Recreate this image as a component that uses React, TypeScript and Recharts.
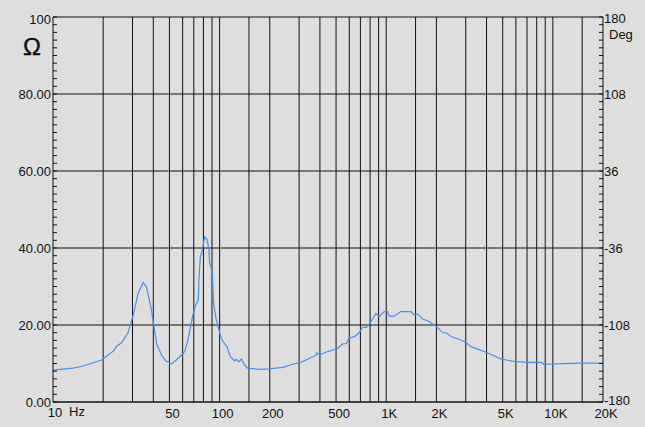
import React from 'react';
import { LineChart, Line, XAxis, YAxis, CartesianGrid } from 'recharts';

// impedance curve (Hz, ohm)
const FREQS = [
  10, 13.2, 15.2, 17.4, 19.6, 21.4, 23, 24.1, 25.8, 28.2, 30.5, 32.4, 34.7, 36.4, 39, 40.8, 42.1,
  44.8, 47.5, 51.4, 55, 59, 61.7, 64.6, 68.7, 71.8, 74.5, 75.2, 76.6, 78.7, 81.3, 84, 86.3, 87.1,
  90.4, 92, 95.5, 101, 104.7, 110.6, 115.9, 123, 126, 130.5, 135.5, 139.3, 145.7, 151, 174, 199,
  239, 275, 308, 346, 379, 383, 397, 445, 511, 547, 578, 595, 652, 696, 721, 762, 810, 867, 908,
  973, 1018, 1042, 1116, 1225, 1406, 1472, 1540, 1650, 1809, 1985, 2175, 2330, 2440, 2737, 3000,
  3215, 3606, 4140, 4864, 5705, 6865, 8560, 8830, 11370, 14310, 20000,
];
const OHMS = [
  8.3, 8.8, 9.35, 10.2, 10.9, 12.2, 13.2, 14.5, 15.4, 18, 23, 28.2, 31, 29.9, 23.9, 18.3, 14.8,
  12.2, 10.7, 9.9, 10.9, 12.2, 13.1, 16.1, 22.2, 25.2, 26.5, 32.1, 37.7, 39.5, 42.9, 42.2, 39.5, 36,
  33.8, 25.6, 21.3, 17.4, 15.7, 14.4, 11.8, 10.7, 11.1, 10.5, 11.2, 10, 8.9, 8.75, 8.5, 8.6,
  9, 9.8, 10.3, 11.35, 12.1, 12.8, 12.2, 13.1, 13.9, 15.1, 15.2, 16.5, 17.1, 18.3, 19.4, 19.4, 20.9, 23, 22.2,
  23.5, 23.5, 22.3, 22.3, 23.5, 23.5, 22.6, 22.9, 21.6, 20.9, 19.7, 18.1, 17.8, 17, 16.3, 15.5,
  14.4, 13.6, 12.6, 11.2, 10.6, 10.3, 10.3, 9.8, 9.95, 10.1, 10.1,
];

const X_GRID = [
  20, 30, 40, 50, 60, 70, 80, 90, 100, 150, 200, 300, 400, 500, 600, 700, 800, 900,
  1000, 1500, 2000, 3000, 4000, 5000, 6000, 7000, 8000, 9000, 10000, 15000,
];
const X_TICKS = [10, ...X_GRID, 20000];
const X_LABELS: Record<number, string> = {
  10: '10', 50: '50', 100: '100', 200: '200', 500: '500',
  1000: '1K', 2000: '2K', 5000: '5K', 10000: '10K', 20000: '20K',
};

const OHM_MAJOR = [0, 20, 40, 60, 80, 100];
const OHM_LABELS = ['0.00', '20.00', '40.00', '60.00', '80.00', '100'];
const DEG_MAJOR = [-180, -108, -36, 36, 108, 180];
const DEG_LABELS = ['-180', '-108', '-36', '36', '108', '180'];

// minor tick positions, 10 per major division
const OHM_MINOR = Array.from({ length: 51 }, (_, i) => i * 2);
const DEG_MINOR = Array.from({ length: 51 }, (_, i) => Math.round((-180 + i * 7.2) * 10) / 10);

// no phase trace in the picture, the key only anchors the degree axis
const data = FREQS.map((f, i) => ({ f, z: OHMS[i], phase: null as number | null }));

const FONT = 'Arial, "Liberation Sans", Helvetica, sans-serif';
const INK = '#111';

const OhmTick = (props: any) => {
  const { x, y, payload } = props;
  const idx = OHM_MAJOR.indexOf(payload.value);
  return (
    <g>
      <line x1={x} y1={y} x2={x + 4} y2={y} stroke={INK} strokeWidth={1} />
      {idx >= 0 && (
        <text x={x - 2} y={y} dy={payload.value === 100 ? 6.5 : 4.5} textAnchor="end" fontSize={13} fill={INK} fontFamily={FONT}>
          {OHM_LABELS[idx]}
        </text>
      )}
    </g>
  );
};

const DegTick = (props: any) => {
  const { x, y, payload } = props;
  const idx = DEG_MAJOR.findIndex((v) => Math.abs(v - payload.value) < 0.01);
  const dy = payload.value === 180 ? 6 : payload.value === -180 ? 2.5 : 4.5;
  return (
    <g>
      <line x1={x} y1={y} x2={x - 4} y2={y} stroke={INK} strokeWidth={1} />
      {idx >= 0 && (
        <text x={x + 1} y={y} dy={dy} textAnchor="start" fontSize={13} fill={INK} fontFamily={FONT}>
          {DEG_LABELS[idx]}
        </text>
      )}
    </g>
  );
};

const FreqTick = (props: any) => {
  const { x, y, payload } = props;
  const label = X_LABELS[payload.value];
  if (!label) return <g />;
  if (payload.value === 10) {
    return (
      <g>
        <text x={x + 2} y={y} dy={15} textAnchor="middle" fontSize={13} fill={INK} fontFamily={FONT}>10</text>
        <text x={x + 16} y={y} dy={14} textAnchor="start" fontSize={13} fill={INK} fontFamily={FONT}>Hz</text>
      </g>
    );
  }
  return (
    <text x={x + 3} y={y} dy={16} textAnchor="middle" fontSize={13} fill={INK} fontFamily={FONT}>
      {label}
    </text>
  );
};

export default function App() {
  return (
    <div style={{ position: 'absolute', left: 0, top: 0, width: 645, height: 427, background: '#dedede', fontFamily: FONT }}>
      <LineChart width={645} height={427} data={data} margin={{ top: 17, right: 0, bottom: 0, left: 0 }}>
        <CartesianGrid
          yAxisId="ohm"
          stroke={INK}
          strokeWidth={1}
          horizontalValues={OHM_MAJOR}
          verticalValues={X_GRID}
        />
        <XAxis
          dataKey="f"
          type="number"
          scale="log"
          domain={[10, 20000]}
          ticks={X_TICKS}
          interval={0}
          allowDataOverflow
          height={25}
          tickSize={0}
          tickMargin={0}
          tickLine={false}
          axisLine={{ stroke: INK }}
          tick={<FreqTick />}
        />
        <YAxis
          yAxisId="ohm"
          orientation="left"
          type="number"
          domain={[0, 100]}
          ticks={OHM_MINOR}
          interval={0}
          allowDataOverflow
          width={53}
          tickSize={0}
          tickMargin={0}
          tickLine={false}
          axisLine={{ stroke: INK }}
          tick={<OhmTick />}
        />
        <YAxis
          yAxisId="deg"
          orientation="right"
          type="number"
          domain={[-180, 180]}
          ticks={DEG_MINOR}
          interval={0}
          allowDataOverflow
          width={42}
          tickSize={0}
          tickMargin={0}
          tickLine={false}
          axisLine={{ stroke: INK }}
          tick={<DegTick />}
        />
        <Line
          yAxisId="ohm"
          type="linear"
          dataKey="z"
          stroke="#4a8fe6"
          strokeWidth={1.2}
          dot={false}
          isAnimationActive={false}
        />
        <Line
          yAxisId="deg"
          type="linear"
          dataKey="phase"
          stroke="none"
          dot={false}
          legendType="none"
          isAnimationActive={false}
        />
      </LineChart>
      <svg width={645} height={427} style={{ position: 'absolute', left: 0, top: 0, pointerEvents: 'none' }}>
        <text x={23} y={55} fontSize={24} fill={INK} stroke={INK} strokeWidth={0.4} fontFamily={FONT}>Ω</text>
        <text x={609} y={39} fontSize={13} fill={INK} fontFamily={FONT}>Deg</text>
      </svg>
    </div>
  );
}
